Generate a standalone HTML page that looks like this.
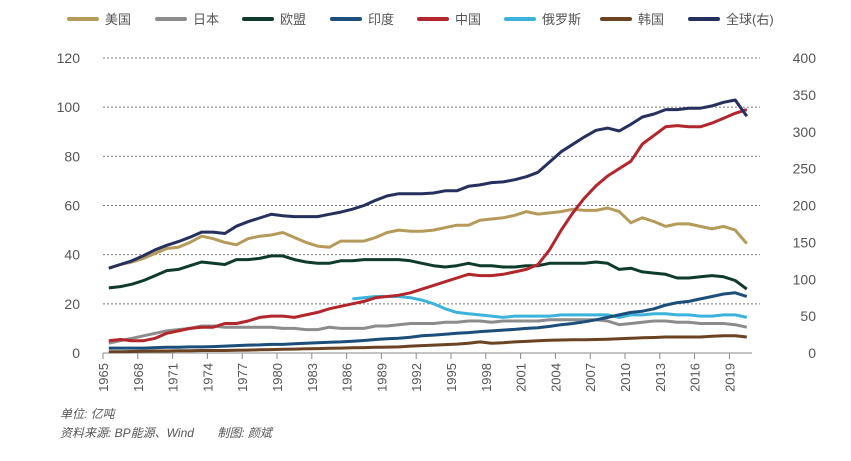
<!DOCTYPE html>
<html><head><meta charset="utf-8">
<style>
body{margin:0;background:#fff;}
#wrap{position:relative;width:851px;height:461px;overflow:hidden;font-family:"Liberation Sans","Noto Sans CJK SC",sans-serif;}
svg{position:absolute;left:0;top:0;}
.note{position:absolute;left:60px;font-size:12px;color:#555;font-style:italic;}
</style></head><body>
<div id="wrap">
<svg id="chart" width="851" height="461"></svg>
<div class="note" style="top:405px">单位: 亿吨</div>
<div class="note" style="top:424px">资料来源: BP能源、Wind&nbsp;&nbsp;&nbsp;&nbsp;&nbsp;&nbsp;&nbsp;制图: 颜斌</div>
</div>
<script>
const startYear = 1965;
const xTickYears = [1965,1968,1971,1974,1977,1980,1983,1986,1989,1992,1995,1998,2001,2004,2007,2010,2013,2016,2019];
const leftTicks = [0,20,40,60,80,100,120];
const rightTicks = [0,50,100,150,200,250,300,350,400];
const usa = [34.5,36,37,38.5,40.5,42.5,43,45,47.5,46.5,45,44,46.5,47.5,48,49,47,45,43.5,43,45.5,45.5,45.5,47,49,50,49.5,49.5,50,51,52,52,54,54.5,55,56,57.5,56.5,57,57.5,58.5,58,58,59,57.5,53,55,53.5,51.5,52.5,52.5,51.5,50.5,51.5,50,44.5];
const japan = [4,5,6,7,8,9,9.5,10,11,11,10.5,10.5,10.5,10.5,10.5,10,10,9.5,9.5,10.5,10,10,10,11,11,11.5,12,12,12,12.5,12.5,13,13,12.5,13,13,13,13,13.5,13.5,13.5,13.5,13.5,13,11.5,12,12.5,13,13,12.5,12.5,12,12,12,11.5,10.5];
const eu = [26.5,27,28,29.5,31.5,33.5,34,35.5,37,36.5,36,38,38,38.5,39.5,39.5,38,37,36.5,36.5,37.5,37.5,38,38,38,38,37.5,36.5,35.5,35,35.5,36.5,35.5,35.5,35,35,35.5,35.5,36.5,36.5,36.5,36.5,37,36.5,34,34.5,33,32.5,32,30.5,30.5,31,31.5,31,29.5,26];
const india = [2,2,2,2,2.2,2.3,2.3,2.5,2.5,2.6,2.8,3,3.2,3.3,3.5,3.5,3.8,4,4.2,4.4,4.5,4.8,5.1,5.5,5.8,6,6.4,7,7.3,7.6,8,8.3,8.7,9,9.3,9.6,10,10.3,10.8,11.5,12,12.7,13.5,14.5,15.5,16.5,17,18,19.5,20.5,21,22,23,24,24.5,23];
const china = [5,5.5,5,5,6,8,9,10,10.5,10.5,12,12,13,14.5,15,15,14.5,15.5,16.5,18,19,20,21,22.5,23,23.5,24.5,26,27.5,29,30.5,32,31.5,31.5,32,33,34,36,42,50,57,63,68,72,75,78,85,88.5,92,92.5,92,92,93.5,95.5,97.5,99];
const russia = [null,null,null,null,null,null,null,null,null,null,null,null,null,null,null,null,null,null,null,null,null,22,22.5,23,23,23,22.5,21.5,20,18,16.5,16,15.5,15,14.5,15,15,15,15,15.5,15.5,15.5,15.5,15.5,14.5,15.5,15.5,16,16,15.5,15.5,15,15,15.5,15.5,14.5];
const korea = [0.5,0.5,0.6,0.7,0.8,0.8,0.9,0.9,1,1,1,1.1,1.2,1.3,1.4,1.5,1.6,1.7,1.8,1.9,2,2.1,2.2,2.3,2.4,2.5,2.8,3,3.2,3.4,3.6,4,4.5,4,4.2,4.5,4.7,5,5.2,5.3,5.4,5.4,5.5,5.6,5.8,6,6.2,6.3,6.5,6.5,6.5,6.5,6.8,7,7,6.5];
const world = [115,120,125,132,140,146,151,157,164,164,162,172,178,183,188,186,185,185,185,188,191,195,200,207,213,216,216,216,217,220,220,226,228,231,232,235,239,245,259,273,283,293,302,305,301,310,320,324,330,330,332,332,335,340,343,321];

const svg = document.getElementById('chart');
const NS = 'http://www.w3.org/2000/svg';
const X0 = 103, PX = 11.6, Y0 = 353, YTOP = 58;
function xs(i){ return X0 + (i + 0.5) * PX; }
function yl(v){ return Y0 - v / 120 * (Y0 - YTOP); }
function yr(v){ return Y0 - v / 400 * (Y0 - YTOP); }
function mk(tag, attrs){ const e = document.createElementNS(NS, tag); for (const k in attrs) e.setAttribute(k, attrs[k]); svg.appendChild(e); return e; }

leftTicks.forEach(t => {
  if (t > 0) {
    const g = mk('line', {x1:103, x2:760, y1:yl(t), y2:yl(t), stroke:'#777', 'stroke-width':1, 'stroke-dasharray':'2,2'});
    
    
  }
  const tx = mk('text', {x:80, y:yl(t)+5, 'text-anchor':'end', 'font-size':14, fill:'#555'});
  tx.textContent = t;
  
  
});
rightTicks.forEach(t => {
  const tx = mk('text', {x:816, y:yr(t)+5, 'text-anchor':'end', 'font-size':14, fill:'#555'});
  tx.textContent = t;
  
  
});
const ax = mk('line', {x1:103, x2:752, y1:Y0, y2:Y0, stroke:'#888', 'stroke-width':1});


xTickYears.forEach(yv => {
  const x = X0 + (yv - startYear) * PX;
  const tk = mk('line', {x1:x, x2:x, y1:Y0, y2:Y0+6, stroke:'#888'});
  
  
  const tx = mk('text', {x:x+5, y:Y0+10, 'text-anchor':'end', 'font-size':13, fill:'#555', transform:'rotate(-90 '+(x+5)+' '+(Y0+10)+')'});
  tx.textContent = yv;
  
  
});

const series = [
  ['korea', korea, '#6b4323', yl], ['russia', russia, '#3bb3dc', yl], ['japan', japan, '#8c8c8c', yl],
  ['india', india, '#1b4e7a', yl], ['eu', eu, '#0f3b2a', yl], ['usa', usa, '#b59a5a', yl],
  ['china', china, '#b3262c', yl], ['world', world, '#26305e', yr]
];
series.forEach(s => {
  let d = '', pen = false;
  s[1].forEach((v, i) => {
    if (v === null) { pen = false; return; }
    d += (pen ? 'L' : 'M') + xs(i).toFixed(1) + ',' + s[3](v).toFixed(1);
    pen = true;
  });
  const p = mk('path', {d:d, fill:'none', stroke:s[2], 'stroke-width':3, 'stroke-linejoin':'round'});
  
  
});

const legendItems = [['美国','#b59a5a',69],['日本','#8c8c8c',157],['欧盟','#0f3b2a',244],['印度','#1b4e7a',332],['中国','#b3262c',419],['俄罗斯','#3bb3dc',506],['韩国','#6b4323',602],['全球(右)','#26305e',690]];
legendItems.forEach(l => {
  const sw = mk('line', {x1:l[2], x2:l[2]+28, y1:19, y2:19, stroke:l[1], 'stroke-width':4, 'stroke-linecap':'round'});
  
  
  const tx = mk('text', {x:l[2]+36, y:24, 'font-size':13, fill:'#555'});
  tx.textContent = l[0];
  
  
});
</script>
</body></html>
